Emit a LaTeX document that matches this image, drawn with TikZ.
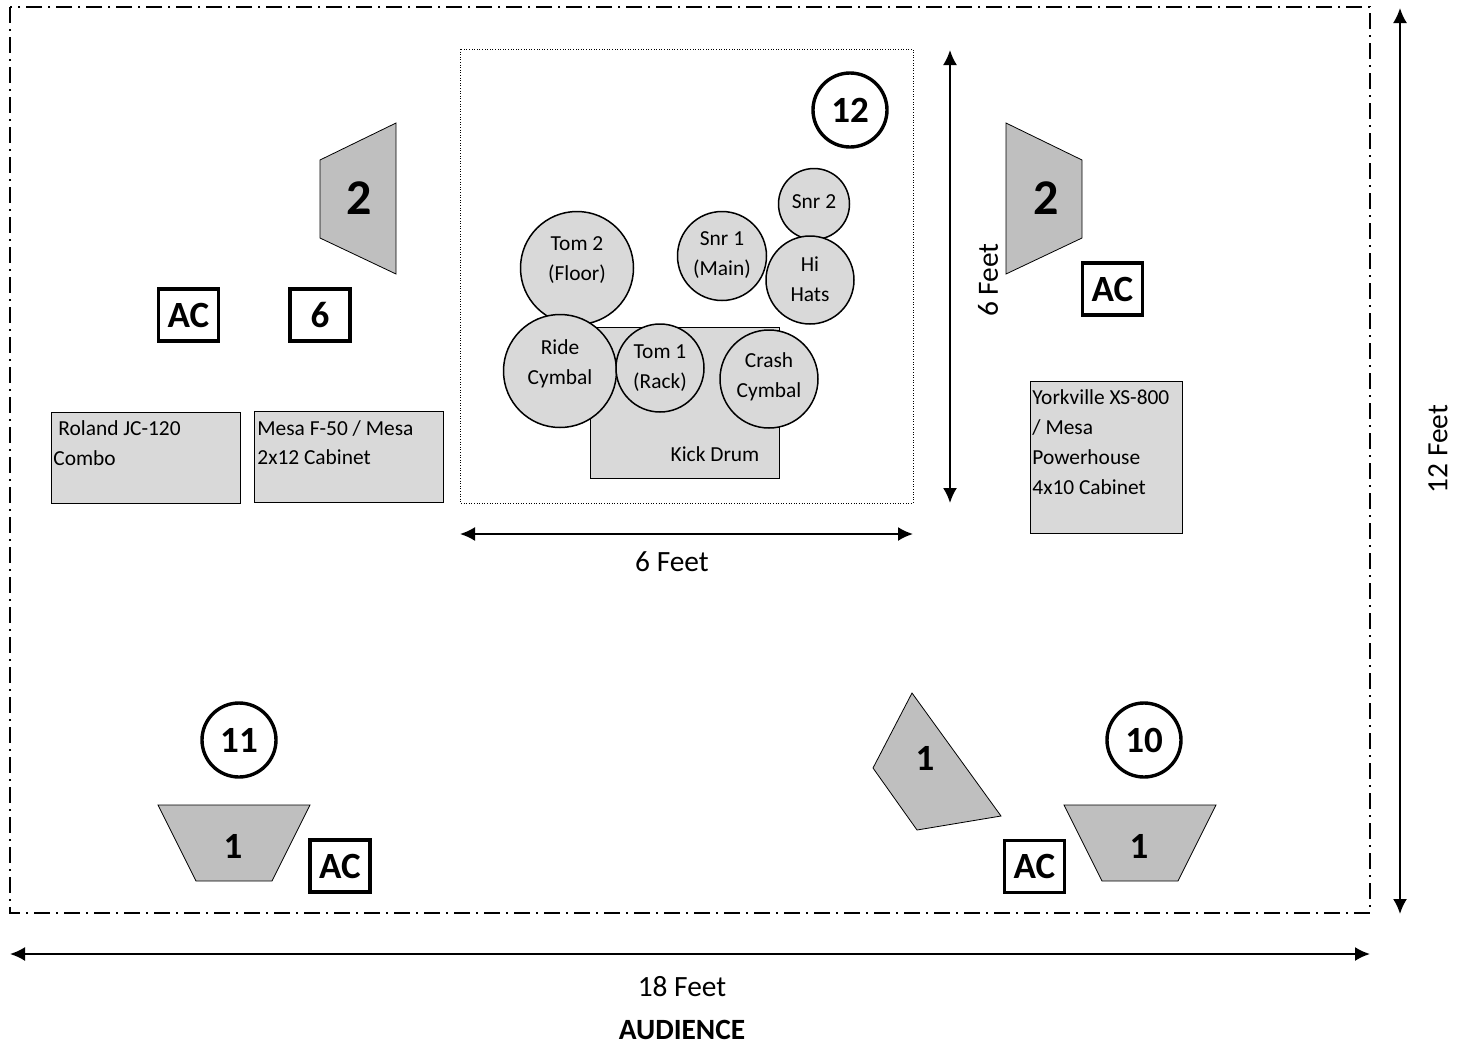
\documentclass[tikz,border=0pt]{standalone}
\usepackage{fontspec}
\setmainfont{Carlito}
\usetikzlibrary{arrows.meta}
\definecolor{drumgray}{HTML}{D9D9D9}
\definecolor{wedgegray}{HTML}{BFBFBF}
\tikzset{
    drum/.style={circle,draw,line width=0.75pt,fill=drumgray,inner sep=0pt},
    cab/.style={draw,line width=0.5pt,fill=drumgray},
    wedge/.style={draw,line width=0.4pt,fill=wedgegray},
    txt/.style={inner sep=0pt,font=\fontsize{10.7}{15}\selectfont,align=center},
    cabtxt/.style={inner sep=0pt,font=\fontsize{10.7}{15}\selectfont,align=left,anchor=base west},
    dim/.style={font=\fontsize{14.7}{16}\selectfont,inner sep=0pt},
    num/.style={font=\fontsize{18.5}{20}\selectfont\bfseries,inner sep=0pt},
    box/.style={draw,line width=1.7pt,fill=white,font=\fontsize{18.5}{20}\selectfont\bfseries,inner sep=0pt,minimum width=30pt,minimum height=26pt},
    chan/.style={circle,draw,line width=1.7pt,fill=white,font=\fontsize{18.5}{20}\selectfont\bfseries,inner sep=0pt,minimum size=37pt},
    span/.style={{Latex[length=7.5pt,width=7pt]}-{Latex[length=7.5pt,width=7pt]},line width=1pt}
}
\begin{document}
\begin{tikzpicture}[x=0.5pt,y=-0.5pt]
        \useasboundingbox(0,0)rectangle(1463,1045);

        % stage outline
        \draw[line width=0.75pt,dash pattern=on 8pt off 3pt on 1pt off 3pt](10,7)rectangle(1370,913);
        \draw[line width=0.3pt,densely dotted](460,49)rectangle(913,503);

        % drum kit
        \node[cab,minimum width=94.5pt,minimum height=75.5pt](kick)at(684.5,402.5){};
        \node[txt](kicklabel)at(715,454){Kick Drum};
        \node[drum,minimum size=56.5pt](tomtwo)at(577,268){};
        \node[txt](tomtwolabel)at(577,260){Tom 2\\(Floor)};
        \node[drum,minimum size=44.5pt](snrone)at(722,256){};
        \node[txt](snronelabel)at(722,255){Snr 1\\(Main)};
        \node[drum,minimum size=35.5pt](snrtwo)at(814,204){};
        \node[txt](snrtwolabel)at(814,202){Snr 2};
        \node[drum,minimum size=44pt](hihats)at(810,280){};
        \node[txt](hihatslabel)at(810,279){Hi\\Hats};
        \node[drum,minimum size=56.5pt](ride)at(560,371){};
        \node[txt](ridelabel)at(560,364){Ride\\Cymbal};
        \node[drum,minimum size=44pt](tomone)at(660,368){};
        \node[txt](tomonelabel)at(660,368){Tom 1\\(Rack)};
        \node[drum,minimum size=49pt](crash)at(769,379){};
        \node[txt](crashlabel)at(769,377){Crash\\Cymbal};

        % cabinets
        \node[cab,minimum width=94.5pt,minimum height=45.5pt](roland)at(145.5,457.5){};
        \node[cabtxt](rolandtop)at(58,435){Roland JC-120};
        \node[cabtxt](rolandbottom)at(53,465){Combo};
        \node[cab,minimum width=94.5pt,minimum height=45.5pt](mesa)at(348.5,456.5){};
        \node[cabtxt](mesatop)at(257,435){Mesa F-50 / Mesa};
        \node[cabtxt](mesabottom)at(257,464){2x12 Cabinet};
        \node[cab,minimum width=76pt,minimum height=76pt](yorkville)at(1106,457){};
        \node[cabtxt](yorkvilleone)at(1032,404){Yorkville XS-800};
        \node[cabtxt](yorkvilletwo)at(1032,434){/ Mesa};
        \node[cabtxt](yorkvillethree)at(1032,464){Powerhouse};
        \node[cabtxt](yorkvillefour)at(1032,494){4x10 Cabinet};

        % wedges
        \draw[wedge](396,123)--(320,160)--(320,238)--(396,274)--cycle;
        \node[num,font=\fontsize{25}{27}\selectfont\bfseries](wedgeleft)at(359,198){2};
        \draw[wedge](1006,123)--(1082,160)--(1082,238)--(1006,274)--cycle;
        \node[num,font=\fontsize{25}{27}\selectfont\bfseries](wedgeright)at(1046,198){2};
        \draw[wedge](158,805)--(310,805)--(272,881)--(196,881)--cycle;
        \node[num](monleft)at(233,846){1};
        \draw[wedge](1064,805)--(1216,805)--(1178,881)--(1102,881)--cycle;
        \node[num](monright)at(1139,846){1};
        \draw[wedge](912,693)--(873,768)--(917,830)--(1001,816)--cycle;
        \node[num](monangle)at(925,758){1};

        % boxes and channels
        \node[box](acone)at(188.5,315){AC};
        \node[box](six)at(320,315){6};
        \node[box](actwo)at(1112.5,289){AC};
        \node[box](acthree)at(340,866){AC};
        \node[box](acfour)at(1034.5,866.5){AC};
        \node[chan](twelve)at(850,110){12};
        \node[chan](eleven)at(239,740){11};
        \node[chan](ten)at(1144,740){10};

        % dimensions
        \coordinate(kitleft)at(460,534);
        \coordinate(kitright)at(913,534);
        \coordinate(kittop)at(950,50);
        \coordinate(kitbottom)at(950,503);
        \coordinate(stagetop)at(1400,8);
        \coordinate(stagebottom)at(1400,914);
        \coordinate(stageleft)at(10,954);
        \coordinate(stageright)at(1370,954);
        \draw[span](kitleft)--(kitright);
        \draw[span](kittop)--(kitbottom);
        \draw[span](stagetop)--(stagebottom);
        \draw[span](stageleft)--(stageright);
        \node[dim](kitwidth)at(672,562){6 Feet};
        \node[dim,rotate=90](kitdepth)at(988,280){6 Feet};
        \node[dim,rotate=90](stagedepth)at(1438,449){12 Feet};
        \node[dim](stagewidth)at(682,987){18 Feet};
        \node[dim,font=\fontsize{14.7}{16}\selectfont\bfseries](audience)at(682,1030){AUDIENCE};
    \end{tikzpicture}
\end{document}
